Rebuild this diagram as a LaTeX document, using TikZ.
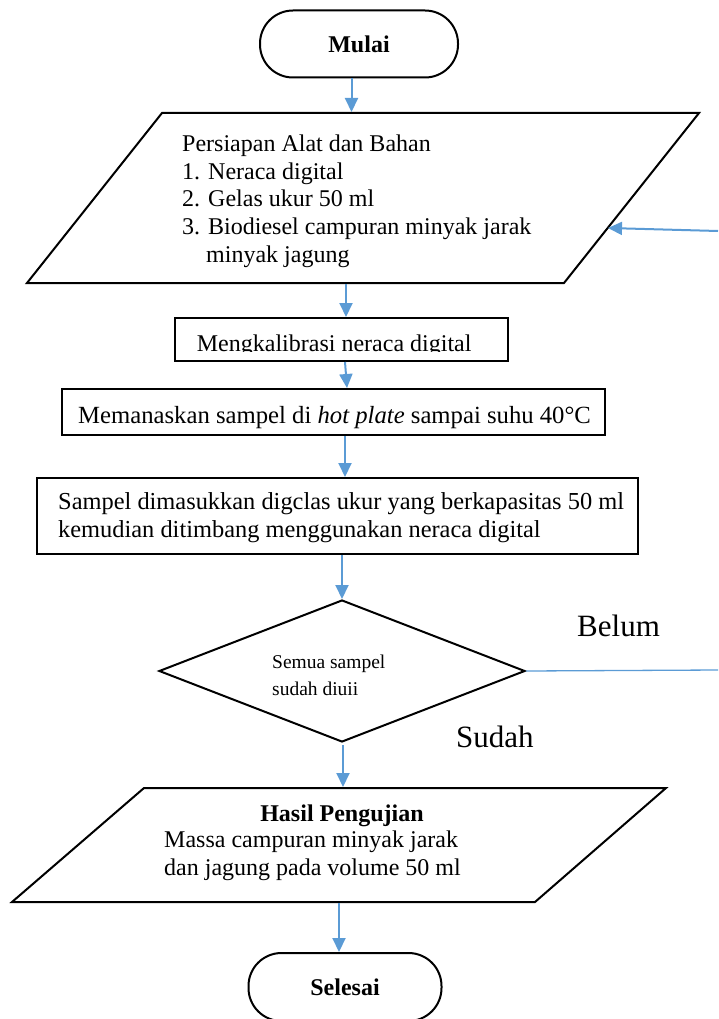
\documentclass[tikz,border=0pt]{standalone}
\usepackage{fontspec}
\setmainfont{Liberation Serif}
\usetikzlibrary{arrows.meta,shapes.geometric}
\definecolor{flowblue}{RGB}{91,155,213}
\tikzset{
  outline/.style={draw=black, line width=2pt},
  term/.style={outline, rounded corners=33pt, inner sep=0pt, font=\fontsize{24}{27.7}\selectfont\bfseries},
  plainbox/.style={outline, inner sep=0pt},
  lbl/.style={inner sep=0pt, font=\fontsize{24}{27.7}\selectfont},
  smalllbl/.style={inner sep=0pt, font=\fontsize{19.5}{27.7}\selectfont},
  biglbl/.style={inner sep=0pt, font=\fontsize{31}{36}\selectfont},
  flow/.style={draw=flowblue, line width=2pt, -{Triangle[length=14pt,width=13pt]}},
  thinflow/.style={draw=flowblue, line width=1.3pt},
}
\begin{document}
\begin{tikzpicture}[x=1pt,y=-1pt]
\clip (0,0) rectangle (718,1019);

% shapes
\node[term, minimum width=198pt, minimum height=67pt] (mulai) at (359,44) {Mulai};
\draw[outline] (162,113) coordinate (p1nw) -- (699,113) coordinate (p1ne)
   -- (564,283) coordinate (p1se) -- (27,283) coordinate (p1sw) -- cycle;
\coordinate (p1in) at (351.5,112);
\coordinate (p1out) at (346,284);
\coordinate (p1fb) at (608,228);
\node[plainbox, minimum width=333pt, minimum height=43pt] (k) at (341.5,339.5) {};
\node[plainbox, minimum width=543pt, minimum height=46pt] (m) at (333.5,412) {};
\node[plainbox, minimum width=601pt, minimum height=76pt] (s) at (337.5,516) {};
\node[outline, diamond, minimum width=366pt, minimum height=142pt, inner sep=1pt] (cek) at (342,671) {};
\draw[outline] (144,788) coordinate (p2nw) -- (666,788) coordinate (p2ne)
   -- (535,902) coordinate (p2se) -- (12,902) coordinate (p2sw) -- cycle;
\coordinate (p2in) at (343,787);
\coordinate (p2out) at (339,903);
\node[term, minimum width=193pt, minimum height=68pt] (selesai) at (345,987) {Selesai};

% texts
\node[lbl, anchor=base west] (p1t) at (182,151.5) {\begin{tabular}[t]{@{}l@{}}
Persiapan Alat dan Bahan\\
1. Neraca digital\\
2. Gelas ukur 50 ml\\
3. Biodiesel campuran minyak  jarak\\
\hphantom{3.\ }minyak jagung
\end{tabular}};
\begin{scope}
\clip (k.north west) rectangle ([yshift=11pt]k.south east);
\node[lbl, anchor=base west] (kt) at (196.7,351) {Mengkalibrasi neraca digital};
\end{scope}
\node[lbl, font=\fontsize{24.7}{27.7}\selectfont, anchor=base west] (mt) at (78,423) {Memanaskan sampel di \textit{hot plate} sampai suhu 40°C};
\node[lbl, font=\fontsize{24.4}{28}\selectfont, anchor=base west] (st) at (58,509.5) {\begin{tabular}[t]{@{}l@{}}
Sampel dimasukkan digclas ukur yang berkapasitas 50 ml\\
kemudian ditimbang menggunakan neraca digital
\end{tabular}};
\node[smalllbl, anchor=base west] (cekt) at (272,668) {\begin{tabular}[t]{@{}l@{}}
Semua sampel\\
sudah diuii
\end{tabular}};
\node[lbl, font=\fontsize{24}{27.7}\selectfont\bfseries, anchor=base] (p2title) at (342,821.5) {Hasil Pengujian};
\node[lbl, anchor=base west] (p2t) at (164,847.5) {\begin{tabular}[t]{@{}l@{}}
Massa campuran minyak jarak\\
dan jagung pada volume 50 ml
\end{tabular}};
\node[biglbl, anchor=base west] (belum) at (577,636) {Belum};
\node[biglbl, anchor=base west] (sudah) at (456,747) {Sudah};

% connectors
\coordinate (fbtop) at (718,231);
\coordinate (fbbot) at (718,670);
\draw[flow] ([xshift=-7.5pt]mulai.south) -- (p1in);
\draw[flow] (p1out) -- ([xshift=4.5pt]k.north);
\draw[flow] ([xshift=3.5pt]k.south) -- ([xshift=13.5pt]m.north);
\draw[flow] ([xshift=11.5pt]m.south) -- ([xshift=7.5pt]s.north);
\draw[flow] ([xshift=4.5pt]s.south) -- (cek.north);
\draw[flow] ([yshift=-2pt,xshift=1pt]cek.south) -- (p2in);
\draw[flow] (p2out) -- ([xshift=-6pt]selesai.north);
\draw[thinflow] (cek.east) -- (fbbot);
\draw[flow] (fbtop) -- (p1fb);
\end{tikzpicture}
\end{document}
